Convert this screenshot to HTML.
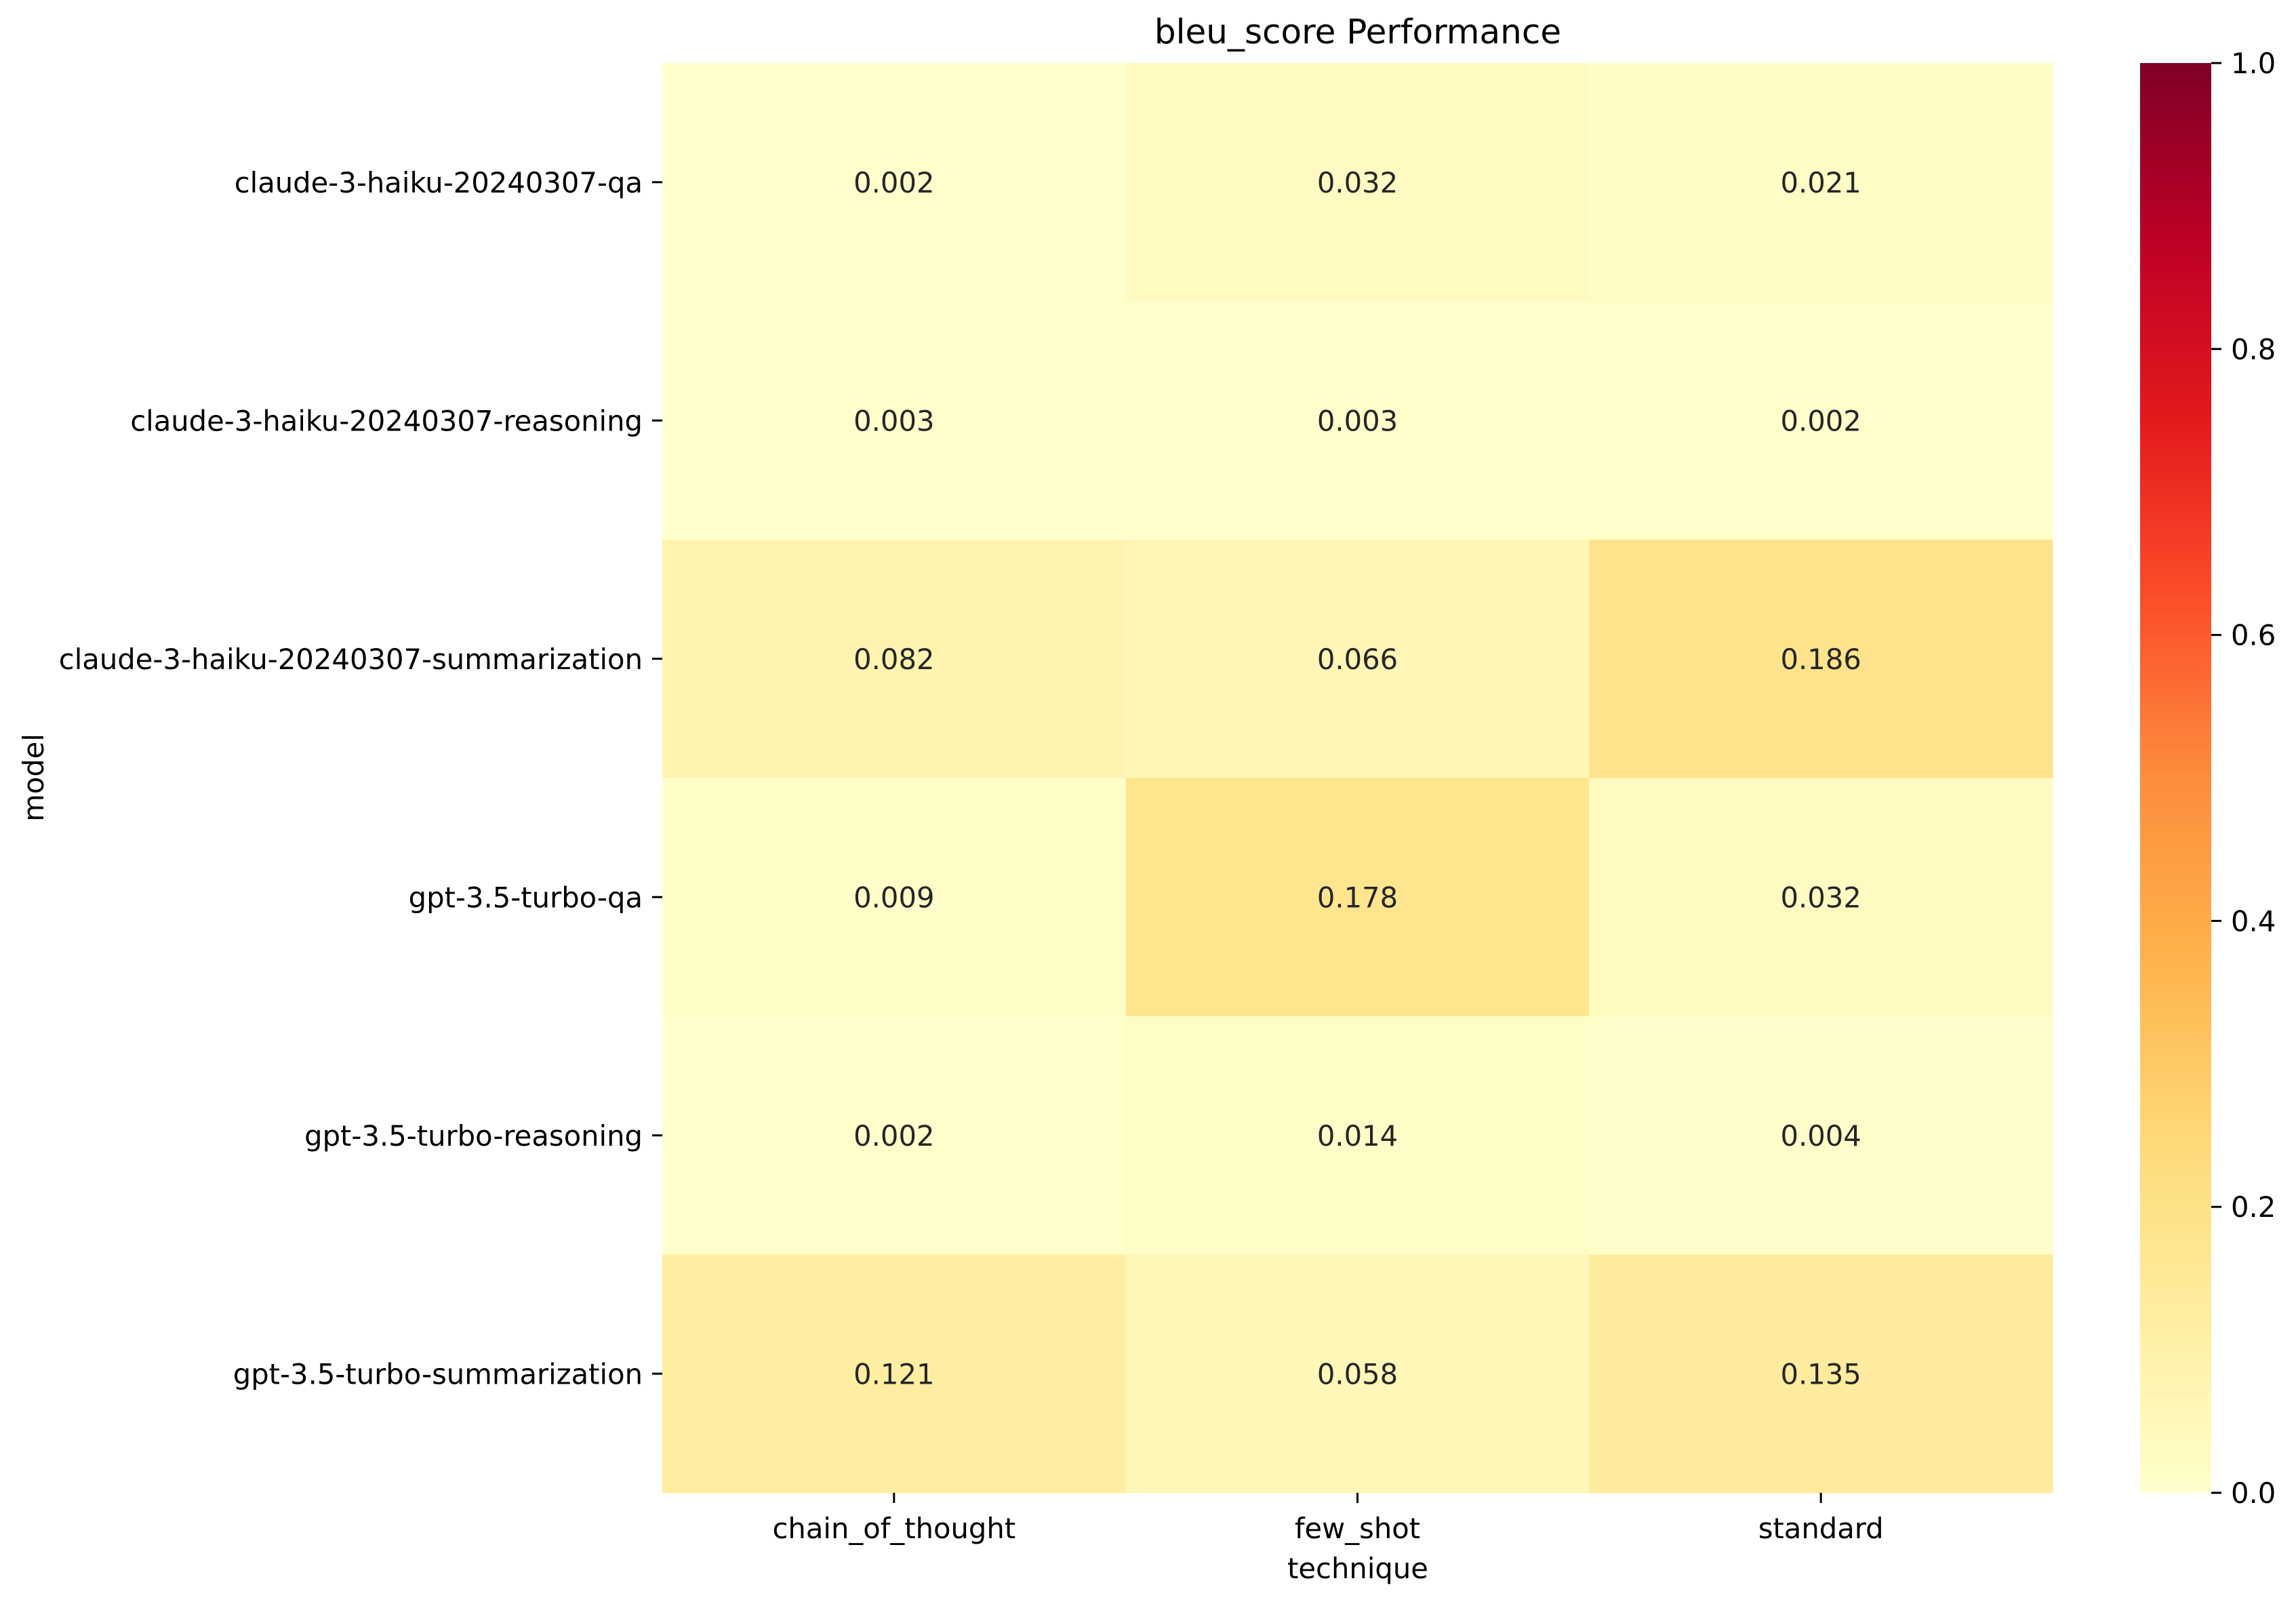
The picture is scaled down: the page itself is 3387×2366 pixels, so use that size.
<!DOCTYPE html>
<html><head><meta charset="utf-8">
<style>
html,body{margin:0;padding:0;background:#fff;}
svg{display:block;font-family:"DejaVu Sans","Liberation Sans",sans-serif;}
</style></head>
<body>
<svg id="chart" width="3387" height="2366" viewBox="0 0 3387 2366" xmlns="http://www.w3.org/2000/svg">
<defs>
<linearGradient id="cbgrad" x1="0" y1="1" x2="0" y2="0">
<stop offset="0" stop-color="#ffffcc"/><stop offset="0.125" stop-color="#ffeda0"/>
<stop offset="0.25" stop-color="#fed976"/><stop offset="0.375" stop-color="#feb24c"/>
<stop offset="0.5" stop-color="#fd8d3c"/><stop offset="0.625" stop-color="#fc4e2a"/>
<stop offset="0.75" stop-color="#e31a1c"/><stop offset="0.875" stop-color="#bd0026"/>
<stop offset="1" stop-color="#800026"/>
</linearGradient>
</defs>
<text x="2003" y="64" font-size="50" text-anchor="middle">bleu_score Performance</text>
<g id="cells"></g>
<g id="yaxis"></g>
<g id="xaxis"></g>
<text x="2003" y="2328" font-size="41.7" text-anchor="middle">technique</text>
<text transform="translate(64,1147) rotate(-90)" font-size="41.7" text-anchor="middle">model</text>
<rect x="3157" y="93" width="105" height="2109" fill="url(#cbgrad)"/>
<g id="cbticks"></g>
</svg>
<script>
const models = ["claude-3-haiku-20240307-qa","claude-3-haiku-20240307-reasoning","claude-3-haiku-20240307-summarization","gpt-3.5-turbo-qa","gpt-3.5-turbo-reasoning","gpt-3.5-turbo-summarization"];
const techniques = ["chain_of_thought","few_shot","standard"];
const rowCoT = [0.002,0.003,0.082,0.009,0.002,0.121];
const rowFewShot = [0.032,0.003,0.066,0.178,0.014,0.058];
const rowStandard = [0.021,0.002,0.186,0.032,0.004,0.135];
const cbTickLabels = ["0.0","0.2","0.4","0.6","0.8","1.0"];
const cbTickValues = [0,0.2,0.4,0.6,0.8,1.0];

const NS="http://www.w3.org/2000/svg";
const L=977,R=3028,T=93,B=2202,CBT=93,CBB=2202,CBX=3157,CBW=105;
const vmin=0,vmax=1;
const xScale=i=>L+i*(R-L)/techniques.length;
const yScale=j=>T+j*(B-T)/models.length;
const cw=(R-L)/techniques.length, ch=(B-T)/models.length;
const cbY=v=>CBB-(v-vmin)/(vmax-vmin)*(CBB-CBT);
const stops=["#ffffcc","#ffeda0","#fed976","#feb24c","#fd8d3c","#fc4e2a","#e31a1c","#bd0026","#800026"].map(h=>[parseInt(h.slice(1,3),16),parseInt(h.slice(3,5),16),parseInt(h.slice(5,7),16)]);
function color(v){let t=Math.max(0,Math.min(1,(v-vmin)/(vmax-vmin)))*8;let i=Math.min(7,Math.floor(t));let f=t-i;const a=stops[i],b=stops[i+1];return "rgb("+a.map((c,k)=>Math.round(c+(b[k]-c)*f)).join(",")+")";}
const cols=[rowCoT,rowFewShot,rowStandard];
const gc=document.getElementById("cells");
cols.forEach((col,i)=>col.forEach((v,j)=>{
 const r=document.createElementNS(NS,"rect");
 
 
 r.setAttribute("x",xScale(i));r.setAttribute("y",yScale(j));
 r.setAttribute("width",cw+0.5);r.setAttribute("height",ch+0.5);r.setAttribute("fill",color(v));
 gc.appendChild(r);
 const t=document.createElementNS(NS,"text");
 
 
 t.setAttribute("x",xScale(i)+cw/2);t.setAttribute("y",yScale(j)+ch/2+15);
 t.setAttribute("font-size","41.7");t.setAttribute("text-anchor","middle");t.setAttribute("fill","#262626");
 t.textContent=v.toFixed(3);gc.appendChild(t);
}));
const gy=document.getElementById("yaxis");
models.forEach((m,j)=>{
 const y=yScale(j)+ch/2;
 const ln=document.createElementNS(NS,"line");
 
 
 ln.setAttribute("x1",L-15);ln.setAttribute("x2",L);ln.setAttribute("y1",y);ln.setAttribute("y2",y);ln.setAttribute("stroke","#000");ln.setAttribute("stroke-width","3");gy.appendChild(ln);
 const t=document.createElementNS(NS,"text");
 
 
 t.setAttribute("x",L-29);t.setAttribute("y",y+15);t.setAttribute("font-size","41.7");t.setAttribute("text-anchor","end");
 t.textContent=m;gy.appendChild(t);
});
const gx=document.getElementById("xaxis");
techniques.forEach((m,i)=>{
 const x=xScale(i)+cw/2;
 const ln=document.createElementNS(NS,"line");
 
 
 ln.setAttribute("x1",x);ln.setAttribute("x2",x);ln.setAttribute("y1",B);ln.setAttribute("y2",B+15);ln.setAttribute("stroke","#000");ln.setAttribute("stroke-width","3");gx.appendChild(ln);
 const t=document.createElementNS(NS,"text");
 
 
 t.setAttribute("x",x);t.setAttribute("y",B+67);t.setAttribute("font-size","41.7");t.setAttribute("text-anchor","middle");
 t.textContent=m;gx.appendChild(t);
});
const gcb=document.getElementById("cbticks");
cbTickValues.forEach((v,k)=>{
 const y=cbY(v);
 const ln=document.createElementNS(NS,"line");
 
 
 ln.setAttribute("x1",CBX+CBW);ln.setAttribute("x2",CBX+CBW+15);ln.setAttribute("y1",y);ln.setAttribute("y2",y);ln.setAttribute("stroke","#000");ln.setAttribute("stroke-width","3");gcb.appendChild(ln);
 const t=document.createElementNS(NS,"text");
 
 
 t.setAttribute("x",CBX+CBW+29);t.setAttribute("y",y+15);t.setAttribute("font-size","41.7");
 t.textContent=cbTickLabels[k];gcb.appendChild(t);
});
</script>
</body></html>
